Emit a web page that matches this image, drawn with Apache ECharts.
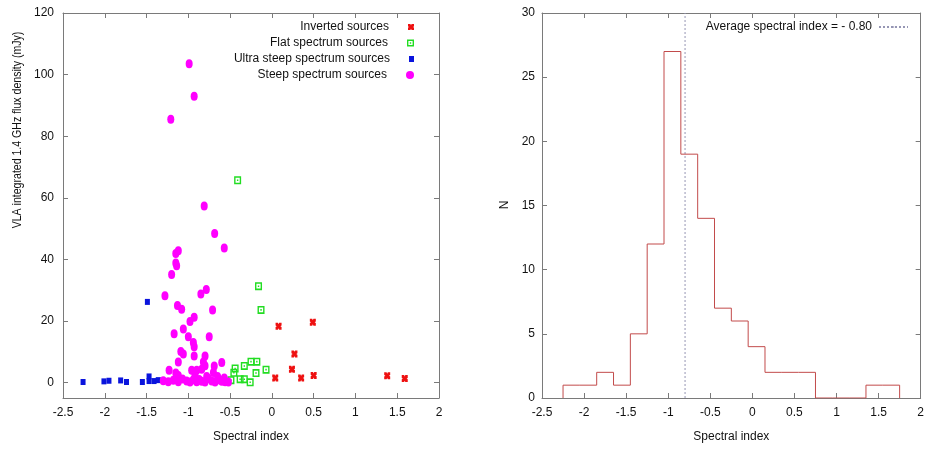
<!DOCTYPE html>
<html>
<head>
<meta charset="utf-8">
<script src="https://cdn.jsdelivr.net/npm/echarts@6/dist/echarts.min.js"></script>
<style>
  html, body { margin: 0; padding: 0; background: #fff; }
  #chart { width: 927px; height: 450px; }
</style>
</head>
<body>
<div id="chart"></div>
<script>
// Spectral index vs. VLA 1.4 GHz integrated flux density (mJy), by class
const invertedSources = [
  [0.04, 1.5], [0.08, 18.3], [0.24, 4.3], [0.27, 9.3], [0.35, 1.5],
  [0.49, 19.6], [0.50, 2.3], [1.38, 2.2], [1.59, 1.3]
];
const flatSources = [
  [-0.41, 65.7], [-0.16, 31.3], [-0.13, 23.6], [-0.25, 6.8], [-0.18, 6.8],
  [-0.33, 5.4], [-0.07, 4.2], [-0.44, 4.6], [-0.455, 3.2], [-0.19, 3.1],
  [-0.38, 1.1], [-0.33, 1.1], [-0.26, 0.1], [-0.49, 0.8]
];
const ultraSteepSources = [
  [-2.26, 0.2], [-2.01, 0.4], [-1.95, 0.6], [-1.81, 0.7], [-1.74, 0.2],
  [-1.55, 0.2], [-1.49, 26.2], [-1.47, 2.0], [-1.47, 0.5], [-1.41, 0.5],
  [-1.36, 0.8]
];
const steepSources = [
  [-1.21, 85.5], [-0.99, 103.5], [-0.93, 93.0], [-0.81, 57.3], [-0.685, 48.4],
  [-0.57, 43.7], [-1.12, 42.8], [-1.15, 41.9], [-1.15, 38.8], [-1.14, 37.9],
  [-1.20, 35.1], [-0.785, 30.2], [-0.85, 28.8], [-1.28, 28.2], [-1.13, 25.0],
  [-1.08, 23.8], [-0.71, 23.6], [-0.93, 21.2], [-0.98, 19.8], [-1.06, 17.4],
  [-1.17, 15.9], [-1.00, 14.9], [-0.75, 14.9], [-0.94, 13.0], [-0.93, 11.6],
  [-1.09, 10.1], [-1.06, 9.3], [-0.93, 8.6], [-0.80, 8.6], [-1.12, 6.7],
  [-0.82, 6.7], [-0.80, 5.5], [-0.60, 6.5], [-0.69, 5.4], [-1.23, 4.0],
  [-0.96, 4.0], [-0.90, 4.0], [-0.84, 4.3], [-1.15, 3.1], [-0.70, 3.3],
  [-0.65, 2.0], [-0.57, 1.5], [-1.30, 0.6], [-1.24, 0.3], [-1.18, 0.8],
  [-1.12, 0.3], [-1.07, 1.2], [-1.02, 0.5], [-0.98, 0.2], [-0.94, 0.9],
  [-0.90, 0.3], [-0.87, 1.0], [-0.84, 0.4], [-0.80, 0.2], [-0.76, 1.3],
  [-0.72, 0.5], [-0.68, 0.2], [-0.64, 0.9], [-0.60, 0.4], [-0.56, 0.3],
  [-0.52, 0.2], [-1.12, 2.3], [-0.92, 2.5], [-0.78, 2.0]
];

// Histogram of spectral indices (bin edges and counts per bin)
const binEdges = [-2.25, -2.05, -1.85, -1.65, -1.45, -1.25, -1.05, -0.85, -0.65,
  -0.45, -0.25, -0.05, 0.15, 0.35, 0.55, 0.75, 0.95, 1.15, 1.35, 1.55, 1.75];
const binCounts = [1, 1, 2, 1, 5, 12, 27, 19, 14, 7, 6, 4, 2, 2, 2, 0, 0, 0, 1, 1];
const meanIndex = -0.80;

// Tick values
const fluxTicks = [0, 20, 40, 60, 80, 100, 120];

// Step outline of the histogram
const histOutline = [[binEdges[0], 0]];
binCounts.forEach((c, i) => {
  histOutline.push([binEdges[i], c], [binEdges[i + 1], c]);
});
histOutline.push([binEdges[binEdges.length - 1], 0]);

const FONT = '"Liberation Sans", Arial, sans-serif';
const TXT = '#111';
const FRAME = '#7a7a7a';
const FS = 12;

const crossPath = 'path://M0,0L4,0L5,2L6,0L10,0L10,4L8,5L10,6L10,10L6,10L5,8L4,10L0,10L0,6L2,5L0,4Z';
const boxPath = 'path://M0,0H10V10H0Z M2,2V8H8V2Z M4,4H6V6H4Z';

function frameAxis(gridIndex, position, extra) {
  return Object.assign({
    gridIndex, position, type: 'value',
    axisLine: { show: true, onZero: false, lineStyle: { color: FRAME, width: 1 } },
    axisTick: { show: true, inside: true, length: 5, lineStyle: { color: FRAME } },
    splitLine: { show: false },
    axisLabel: { show: false }
  }, extra);
}

const labelStyle = (margin) => ({ show: true, color: TXT, fontFamily: FONT, fontSize: FS, margin });

const chart = echarts.init(document.getElementById('chart'), null, { renderer: 'canvas' });

const legendText = { color: TXT, fontFamily: FONT, fontSize: FS, lineHeight: 16, padding: [0, 14, 0, 0] };
function classLegend(name, top, w, h) {
  return {
    data: [name], orient: 'vertical', align: 'right', right: 513, top,
    padding: 0, itemWidth: w, itemHeight: h, selectedMode: false,
    textStyle: legendText
  };
}

const avgName = 'Average spectral index = - ' + (-meanIndex).toFixed(2);

chart.setOption({
  animation: false,
  backgroundColor: '#fff',
  grid: [
    { left: 63, right: 488, top: 13, bottom: 52 },
    { left: 542, right: 2, top: 13, bottom: 52 }
  ],
  xAxis: [
    frameAxis(0, 'bottom', {
      min: -2.5, max: 2, interval: 0.5,
      axisLabel: labelStyle(9),
      name: 'Spectral index', nameLocation: 'middle', nameGap: 33,
      nameTextStyle: { color: TXT, fontFamily: FONT, fontSize: FS }
    }),
    frameAxis(0, 'top', { min: -2.5, max: 2, interval: 0.5 }),
    frameAxis(1, 'bottom', {
      min: -2.5, max: 2, interval: 0.5,
      axisLabel: labelStyle(9),
      name: 'Spectral index', nameLocation: 'middle', nameGap: 33,
      nameTextStyle: { color: TXT, fontFamily: FONT, fontSize: FS }
    }),
    frameAxis(1, 'top', { min: -2.5, max: 2, interval: 0.5 })
  ],
  yAxis: [
    frameAxis(0, 'left', {
      min: -5, max: 120,
      axisTick: { show: true, inside: true, length: 5, lineStyle: { color: FRAME }, customValues: fluxTicks },
      axisLabel: Object.assign(labelStyle(9), { customValues: fluxTicks })
    }),
    frameAxis(0, 'right', {
      min: -5, max: 120,
      axisTick: { show: true, inside: true, length: 5, lineStyle: { color: FRAME }, customValues: fluxTicks }
    }),
    frameAxis(1, 'left', { min: 0, max: 30, interval: 5, axisLabel: labelStyle(7) }),
    frameAxis(1, 'right', { min: 0, max: 30, interval: 5 })
  ],
  legend: [
    classLegend('Inverted sources', 19, 6, 7),
    classLegend('Flat spectrum sources', 35, 7, 7),
    classLegend('Ultra steep spectrum sources', 51, 5, 6),
    classLegend('Steep spectrum sources', 67, 8, 10),
    {
      data: [avgName],
      align: 'right', right: 18, top: 19, padding: 0,
      itemWidth: 29, itemHeight: 2, selectedMode: false,
      textStyle: { color: TXT, fontFamily: FONT, fontSize: FS, lineHeight: 16, padding: [0, 2, 0, 0] }
    }
  ],
  graphic: [
    {
      type: 'text', x: 18, y: 130, rotation: Math.PI / 2, scaleX: 0.88,
      style: { text: 'VLA integrated 1.4 GHz flux density (mJy)', fill: TXT,
        font: '12px ' + FONT, align: 'center', verticalAlign: 'middle' }
    },
    {
      type: 'text', x: 505, y: 205, rotation: Math.PI / 2,
      style: { text: 'N', fill: TXT, font: FS + 'px ' + FONT, align: 'center', verticalAlign: 'middle' }
    }
  ],
  series: [
    {
      name: 'Inverted sources', type: 'scatter', xAxisIndex: 0, yAxisIndex: 0,
      data: invertedSources, symbol: crossPath, symbolSize: [6, 7],
      itemStyle: { color: '#ee1111', opacity: 1 }
    },
    {
      name: 'Flat spectrum sources', type: 'scatter', xAxisIndex: 0, yAxisIndex: 0,
      data: flatSources, symbol: boxPath, symbolSize: [7, 8],
      itemStyle: { color: '#22dd22', opacity: 1 }
    },
    {
      name: 'Ultra steep spectrum sources', type: 'scatter', xAxisIndex: 0, yAxisIndex: 0,
      data: ultraSteepSources, symbol: 'rect', symbolSize: [5, 6],
      itemStyle: { color: '#0a14dd', opacity: 1 }
    },
    {
      name: 'Steep spectrum sources', type: 'scatter', xAxisIndex: 0, yAxisIndex: 0,
      data: steepSources, symbol: 'circle', symbolSize: [7, 9],
      itemStyle: { color: '#ff00ff', opacity: 1 }
    },
    {
      name: 'histogram', type: 'line', xAxisIndex: 2, yAxisIndex: 2,
      data: histOutline, showSymbol: false, symbol: 'none',
      lineStyle: { color: '#c24b4b', width: 1 }, z: 3
    },
    {
      name: avgName, type: 'line',
      xAxisIndex: 2, yAxisIndex: 2,
      data: [[meanIndex, 0], [meanIndex, 30]], showSymbol: false, symbol: 'none',
      lineStyle: { color: '#9696b4', width: 1, type: [2, 2] },
      itemStyle: { color: '#9696b4' }, z: 2
    }
  ]
});
</script>
</body>
</html>
